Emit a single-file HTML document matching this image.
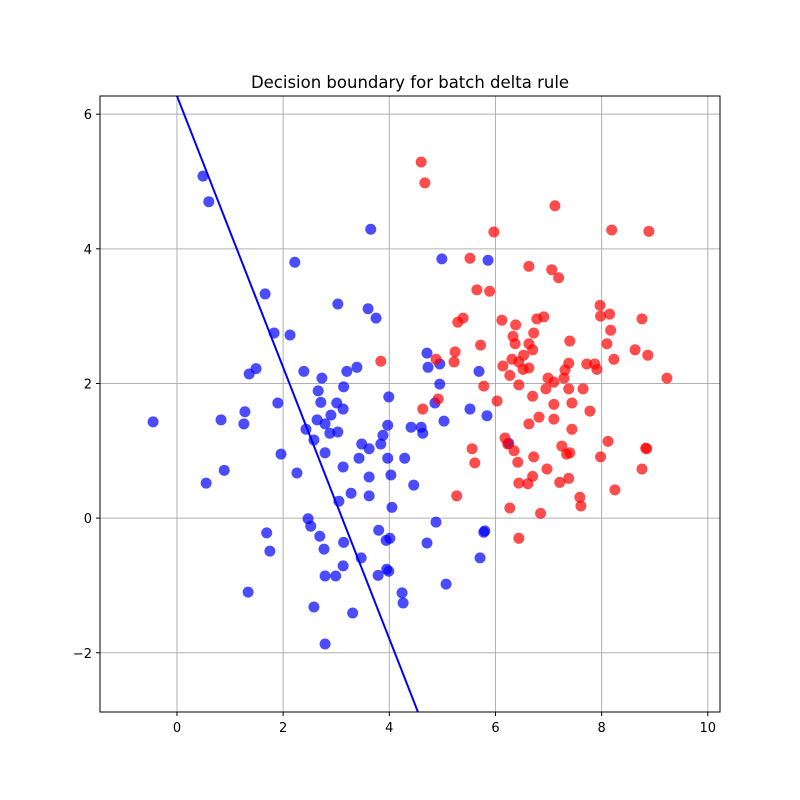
<!DOCTYPE html>
<html><head><meta charset="utf-8">
<style>
html,body{margin:0;padding:0;background:#fff;}
svg{display:block;font-family:"DejaVu Sans","Liberation Sans",sans-serif;}
</style></head>
<body>
<svg id="chart" width="800" height="800" viewBox="0 0 800 800">
<rect x="0" y="0" width="800" height="800" fill="#fff"/>
<text x="410" y="88" text-anchor="middle" font-size="16.5" fill="#000">Decision boundary for batch delta rule</text>
<defs><clipPath id="clip"><rect x="100" y="96" width="620" height="616"/></clipPath></defs>
<g id="grid"></g>
<g id="line" clip-path="url(#clip)"></g>
<g id="pts" clip-path="url(#clip)"></g>
<rect x="100" y="96" width="620" height="616" fill="none" stroke="#000" stroke-width="1"/>
<g id="ticks"></g>
</svg>
<script>
const xTicks=[0,2,4,6,8,10];
const yTicks=[-2,0,2,4,6];
const xDomain=[-1.45,10.23];
const yDomain=[-2.88,6.27];
const lineX=[0,4.54];
const lineY=[6.27,-2.88];
const blueX=[0.49,0.60,2.22,1.66,1.83,2.13,1.49,1.36,2.39,2.73,2.66,1.28,1.26,1.90,2.71,3.14,3.01,3.13,2.90,2.64,2.79,2.43,2.88,3.03,2.58,1.96,2.79,2.26,3.13,3.99,3.97,3.88,3.84,3.48,3.62,3.43,3.97,4.29,4.41,4.60,4.63,3.62,4.03,4.46,3.28,3.62,3.05,4.05,2.47,2.52,2.69,1.69,1.75,2.77,3.14,3.80,4.01,3.94,4.71,3.47,3.13,2.79,2.99,3.79,3.95,3.99,4.24,4.26,1.34,2.58,3.31,2.79,-0.45,0.83,0.89,0.55,3.65,4.99,5.86,3.03,3.60,3.75,4.71,4.73,4.95,5.69,3.39,3.20,4.95,4.86,5.52,5.84,5.03,6.25,4.88,5.78,5.71,5.07,5.80];
const blueY=[5.08,4.70,3.80,3.33,2.75,2.72,2.22,2.14,2.18,2.08,1.89,1.58,1.40,1.71,1.72,1.95,1.71,1.62,1.53,1.46,1.40,1.32,1.26,1.28,1.16,0.95,0.97,0.67,0.76,1.80,1.38,1.23,1.10,1.10,1.03,0.89,0.89,0.89,1.35,1.35,1.26,0.61,0.64,0.49,0.37,0.33,0.25,0.16,-0.01,-0.12,-0.27,-0.22,-0.49,-0.46,-0.36,-0.18,-0.30,-0.33,-0.37,-0.59,-0.71,-0.86,-0.86,-0.85,-0.76,-0.79,-1.11,-1.26,-1.10,-1.32,-1.41,-1.87,1.43,1.46,0.71,0.52,4.29,3.85,3.83,3.18,3.11,2.97,2.45,2.24,2.29,2.18,2.24,2.18,1.99,1.71,1.62,1.52,1.44,1.11,-0.06,-0.21,-0.59,-0.98,-0.19];
const redX=[4.60,4.67,7.12,5.97,8.19,8.89,5.52,6.63,7.06,7.19,5.65,5.89,7.97,7.98,8.15,8.76,5.29,5.39,6.12,6.78,6.91,6.38,6.72,6.33,6.37,6.63,5.72,6.70,7.40,8.17,8.10,8.63,8.87,8.23,6.53,6.31,6.14,6.44,6.52,6.63,6.27,7.38,7.31,7.29,6.99,7.10,7.72,7.87,7.91,9.23,6.44,6.95,7.38,7.65,6.03,6.70,7.10,7.44,7.78,6.82,6.63,7.10,7.44,8.12,8.83,8.85,7.25,7.40,7.34,7.98,6.18,6.35,6.42,6.72,6.97,6.70,6.44,6.61,7.21,7.38,8.76,8.25,7.59,7.61,6.27,6.85,6.44,4.88,5.24,5.22,3.84,5.78,4.92,4.63,5.56,5.61,5.27,6.23];
const redY=[5.29,4.98,4.64,4.25,4.28,4.26,3.86,3.74,3.69,3.57,3.39,3.37,3.16,3.00,3.03,2.96,2.91,2.97,2.94,2.96,2.99,2.87,2.75,2.70,2.59,2.59,2.57,2.50,2.63,2.79,2.59,2.50,2.42,2.36,2.42,2.36,2.26,2.32,2.21,2.23,2.12,2.30,2.20,2.08,2.08,2.02,2.29,2.29,2.21,2.08,1.98,1.92,1.92,1.92,1.74,1.81,1.69,1.71,1.59,1.50,1.40,1.47,1.32,1.14,1.04,1.03,1.07,0.97,0.95,0.91,1.19,1.00,0.83,0.91,0.73,0.62,0.52,0.51,0.53,0.59,0.73,0.42,0.31,0.18,0.15,0.07,-0.30,2.36,2.47,2.32,2.33,1.96,1.77,1.62,1.03,0.82,0.33,1.10];

const L=100,R=720,T=96,B=712;
function sx(v){return L+(v-xDomain[0])/(xDomain[1]-xDomain[0])*(R-L);}
function sy(v){return B-(v-yDomain[0])/(yDomain[1]-yDomain[0])*(B-T);}
const NS='http://www.w3.org/2000/svg';
function mk(tag,attrs,parent){const e=document.createElementNS(NS,tag);for(const k in attrs)e.setAttribute(k,attrs[k]);parent.appendChild(e);return e;}
const grid=document.getElementById('grid'),ticks=document.getElementById('ticks');
xTicks.forEach(v=>{
  const x=sx(v);
  const g=mk('line',{x1:x,x2:x,y1:T,y2:B,stroke:'#b0b0b0','stroke-width':1},grid);
  
  
  const t=mk('line',{x1:x,x2:x,y1:B,y2:B+4,stroke:'#000','stroke-width':1},ticks);
  
  
  const tx=mk('text',{x:x,y:B+20,'text-anchor':'middle','font-size':13,fill:'#000'},ticks);
  tx.textContent=String(v);
  
  
});
yTicks.forEach(v=>{
  const y=sy(v);
  const g=mk('line',{x1:L,x2:R,y1:y,y2:y,stroke:'#b0b0b0','stroke-width':1},grid);
  
  
  const t=mk('line',{x1:L-4,x2:L,y1:y,y2:y,stroke:'#000','stroke-width':1},ticks);
  
  
  const tx=mk('text',{x:L-8,y:y+5,'text-anchor':'end','font-size':13,fill:'#000'},ticks);
  tx.textContent=(v<0?'\u2212'+Math.abs(v):String(v));
  
  
});
const ln=mk('line',{x1:sx(lineX[0]),y1:sy(lineY[0]),x2:sx(lineX[1]),y2:sy(lineY[1]),stroke:'#0000ff','stroke-width':2},document.getElementById('line'));


const pts=document.getElementById('pts');
blueX.forEach((v,i)=>{
  const c=mk('circle',{cx:sx(v),cy:sy(blueY[i]),r:5.5,fill:'#0000ff','fill-opacity':0.7},pts);
  
  
});
redX.forEach((v,i)=>{
  const c=mk('circle',{cx:sx(v),cy:sy(redY[i]),r:5.5,fill:'#ff0000','fill-opacity':0.7},pts);
  
  
});
</script>
</body></html>
